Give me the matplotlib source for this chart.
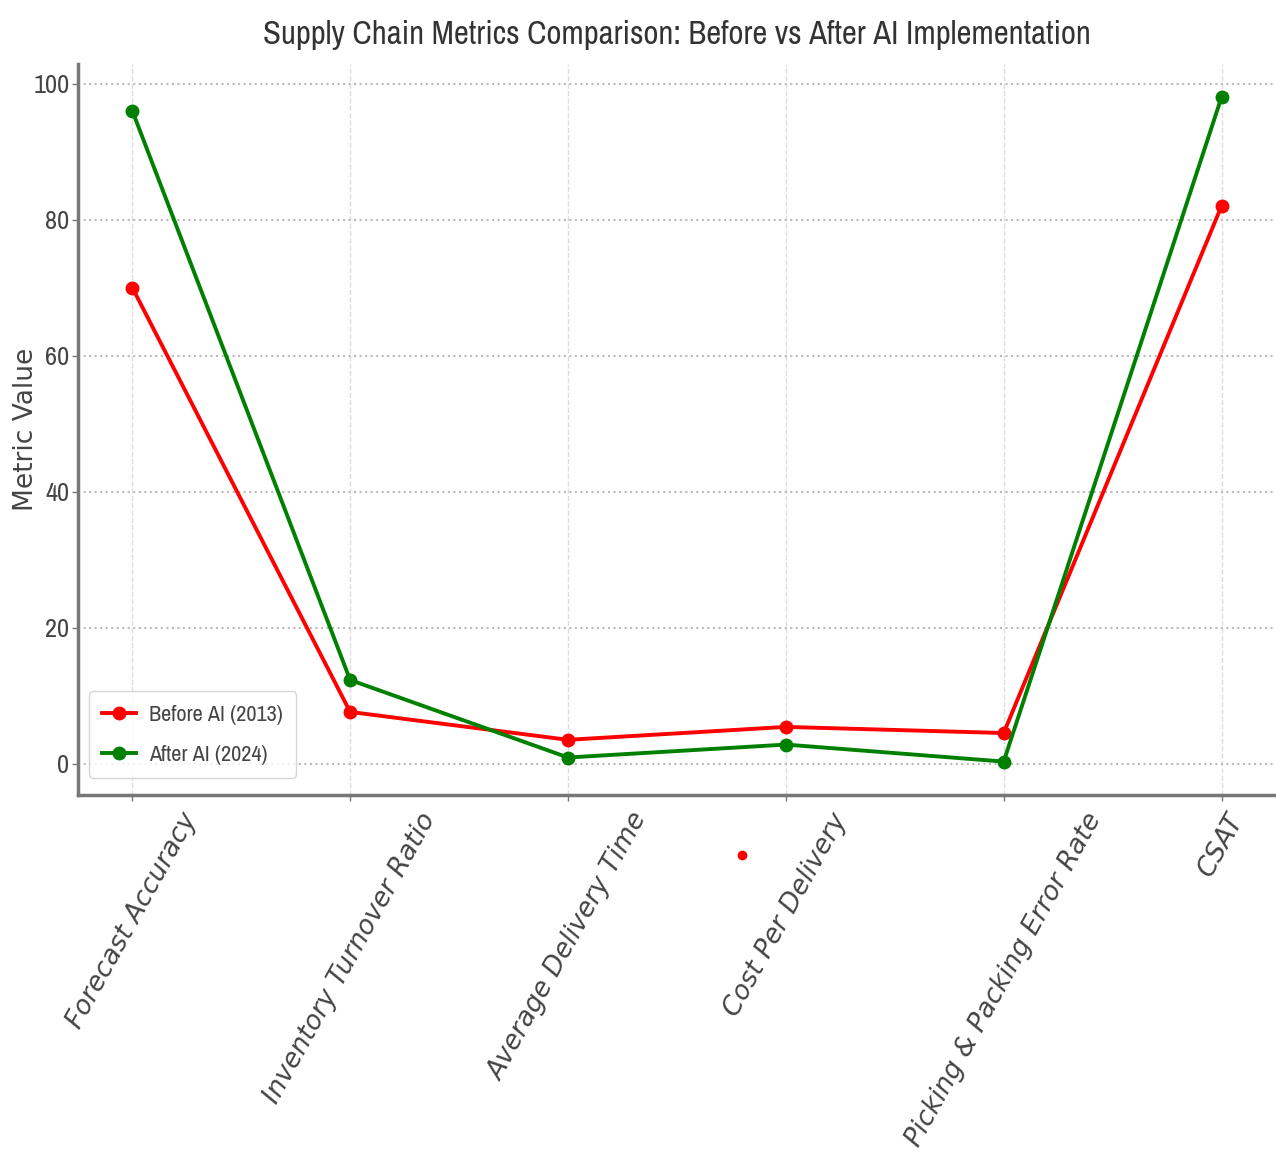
import matplotlib
matplotlib.use('Agg')
import matplotlib.pyplot as plt
from matplotlib import font_manager

# Dados
metricas = ['Forecast Accuracy', 'Inventory Turnover Ratio', 'Average Delivery Time',
            'Cost Per Delivery', 'Picking & Packing Error Rate', 'CSAT']
antes_ia = [70, 7.6, 3.5, 5.4, 4.5, 82]
depois_ia = [96, 12.3, 0.9, 2.8, 0.3, 98]
rotulo_antes = 'Before AI (2013)'
rotulo_depois = 'After AI (2024)'
# ponto vermelho solto abaixo do eixo (aparece na imagem original)
ponto_solto_x = [2.8]
ponto_solto_y = [-13.4]

# Procura uma fonte estreita instalada (o original tem texto bem comprimido)
nomes = sorted(set(f.name for f in font_manager.fontManager.ttflist))
estreitas = [n for n in nomes if 'Narrow' in n or 'Condensed' in n]
if estreitas:
    fonte_estreita = [estreitas[0], 'DejaVu Sans']
else:
    fonte_estreita = ['DejaVu Sans']

cor_texto = '#444444'

fig = plt.figure(figsize=(12.76, 11.62), dpi=100)
ax = fig.add_axes([0.061, 0.316, 0.939, 0.629])

x = range(len(metricas))
ax.plot(x, antes_ia, color='red', marker='o', linewidth=2.8, markersize=9, label=rotulo_antes)
ax.plot(x, depois_ia, color='green', marker='o', linewidth=2.8, markersize=9, label=rotulo_depois)
# guarda os limites antes do ponto solto para ele não mexer na escala
limites_y = ax.get_ylim()
ax.plot(ponto_solto_x, ponto_solto_y, 'o', color='red', markersize=6, clip_on=False)
ax.set_ylim(limites_y)

titulo = ax.set_title('Supply Chain Metrics Comparison: Before vs After AI Implementation',
                      fontsize=24, family=fonte_estreita, color='#333333', pad=14)
ax.set_ylabel('Metric Value', fontsize=19, color=cor_texto, family='DejaVu Sans')
ax.yaxis.set_label_coords(-0.032, 0.5)

ax.set_xticks(list(x))
ax.set_xticklabels(metricas, rotation=61, ha='center', fontsize=19, style='italic')
ax.set_yticks([0, 20, 40, 60, 80, 100])
for t in ax.get_yticklabels():
    t.set_family(fonte_estreita)
    t.set_fontsize(19)

ax.grid(True, axis='y', linestyle=':', color='#bbbbbb', linewidth=1.5)
ax.grid(True, axis='x', linestyle='--', color='#dddddd', linewidth=1)
ax.spines['top'].set_visible(False)
ax.spines['right'].set_visible(False)
for lado in ['left', 'bottom']:
    ax.spines[lado].set_color('#777777')
    ax.spines[lado].set_linewidth(2.5)
ax.tick_params(axis='both', colors='#777777', labelcolor=cor_texto, length=4, width=1)
ax.tick_params(axis='y', pad=2)
ax.tick_params(axis='x', pad=6)

leg = ax.legend(loc='lower left', bbox_to_anchor=(0.0, 0.008), prop={'family': fonte_estreita, 'size': 16},
                frameon=True, handlelength=1.5, handletextpad=0.6, borderpad=0.6, labelspacing=0.9)
for t in leg.get_texts():
    t.set_color(cor_texto)

# ajusta o tamanho do título para ocupar a mesma largura do original (~828 px)
fig.canvas.draw()
largura = titulo.get_window_extent().width
titulo.set_fontsize(24 * 828 / largura)

fig.savefig('out.png', dpi=100)
